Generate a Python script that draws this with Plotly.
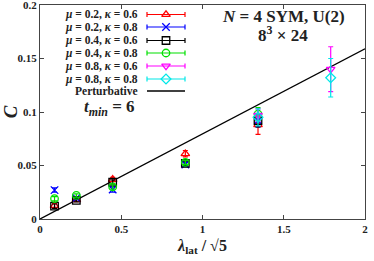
import plotly.graph_objects as go

# ---- data ----
x_low = [0.0894, 0.2236, 0.4472, 0.8944, 1.3416]
x_high = [1.3416, 1.7889]

c_m02_k06 = [0.0125, 0.0180, 0.0370, 0.0610, 0.0880]
e_m02_k06 = [0.0020, 0.0015, 0.0020, 0.0030, 0.0090]
c_m02_k08 = [0.0270, 0.0195, 0.0275, 0.0510, 0.0920]
e_m02_k08 = [0.0020, 0.0015, 0.0025, 0.0020, 0.0060]
c_m04_k06 = [0.0120, 0.0175, 0.0345, 0.0520, 0.0920]
e_m04_k06 = [0.0020, 0.0015, 0.0020, 0.0020, 0.0060]
c_m04_k08 = [0.0190, 0.0220, 0.0300, 0.0530, 0.0980]
e_m04_k08 = [0.0020, 0.0015, 0.0020, 0.0020, 0.0060]
c_m08_k06 = [0.0970, 0.1400]
e_m08_k06 = [0.0060, 0.0210]
c_m08_k08 = [0.0950, 0.1320]
e_m08_k08 = [0.0080, 0.0180]

pert_x = [0.0, 2.0]
pert_y = [0.0, 0.159]

labels = ["<i>μ</i> = 0.2, <i>κ</i> = 0.6", "<i>μ</i> = 0.2, <i>κ</i> = 0.8",
          "<i>μ</i> = 0.4, <i>κ</i> = 0.6", "<i>μ</i> = 0.4, <i>κ</i> = 0.8",
          "<i>μ</i> = 0.8, <i>κ</i> = 0.6", "<i>μ</i> = 0.8, <i>κ</i> = 0.8"]

series = [
    (x_low, c_m02_k06, e_m02_k06, "#ff0000", "triangle-up-open"),
    (x_low, c_m02_k08, e_m02_k08, "#0000ff", "x-thin-open"),
    (x_low, c_m04_k06, e_m04_k06, "#000000", "square-open"),
    (x_low, c_m04_k08, e_m04_k08, "#00e000", "circle-open"),
    (x_high, c_m08_k06, e_m08_k06, "#ff00ff", "triangle-down-open"),
    (x_high, c_m08_k08, e_m08_k08, "#00e8e8", "diamond-open"),
]

FONT = "Liberation Serif"
TXT = "#222"
fig = go.Figure()

# perturbative line
fig.add_trace(go.Scatter(x=pert_x, y=pert_y, mode="lines",
                         line=dict(color="black", width=1.3), showlegend=False))

for (xs, ys, es, col, sym) in series:
    fig.add_trace(go.Scatter(
        x=xs, y=ys, mode="markers", showlegend=False,
        marker=dict(symbol=sym, size=7.5, color=col, line=dict(color=col, width=1.3)),
        error_y=dict(type="data", array=es, color=col, thickness=1.2, width=2.5)))

# ---- legend drawn on an auxiliary pixel-like axis (0..325 x 0..214) ----
row_y = [204.5, 192, 178.5, 166, 153, 140, 128]
for i, (xs, ys, es, col, sym) in enumerate(series):
    fig.add_trace(go.Scatter(
        x=[126], y=[row_y[i]], xaxis="x2", yaxis="y2", mode="markers", showlegend=False,
        marker=dict(symbol=sym, size=7.5, color=col, line=dict(color=col, width=1.3)),
        error_x=dict(type="data", array=[19], color=col, thickness=1.2, width=2.5)))
    fig.add_annotation(x=100, y=row_y[i], xref="x2", yref="y2", text="<b>" + labels[i] + "</b>",
                       showarrow=False, xanchor="right", yanchor="middle",
                       font=dict(family=FONT, size=11.5, color=TXT))
fig.add_trace(go.Scatter(x=[107, 145], y=[row_y[6], row_y[6]], xaxis="x2", yaxis="y2",
                         mode="lines", line=dict(color="black", width=1.3), showlegend=False))
fig.add_annotation(x=100, y=row_y[6], xref="x2", yref="y2", text="<b>Perturbative</b>",
                   showarrow=False, xanchor="right", yanchor="middle",
                   font=dict(family=FONT, size=11.5, color=TXT))
fig.add_annotation(x=69, y=111, xref="x2", yref="y2",
                   text="<b><i>t<sub>min</sub></i> = 6</b>",
                   showarrow=False, xanchor="center", yanchor="middle",
                   font=dict(family=FONT, size=17, color=TXT))

# title annotations
fig.add_annotation(x=243, y=203, xref="x2", yref="y2", text="<b><i>N</i> = 4 SYM, U(2)</b>",
                   showarrow=False, xanchor="center", yanchor="middle",
                   font=dict(family=FONT, size=17, color=TXT))
fig.add_annotation(x=243, y=185, xref="x2", yref="y2", text="<b>8<sup>3</sup> × 24</b>",
                   showarrow=False, xanchor="center", yanchor="middle",
                   font=dict(family=FONT, size=17, color=TXT))

axis_common = dict(showgrid=False, zeroline=False, showline=True, linecolor="#444",
                   linewidth=1, mirror="ticks", ticks="inside", ticklen=4,
                   tickcolor="#444", automargin=False, ticklabeloverflow="allow",
                   tickfont=dict(family=FONT, size=11, color=TXT))

fig.update_layout(
    width=374, height=261,
    margin=dict(l=40, r=9, t=5, b=42),
    plot_bgcolor="white", paper_bgcolor="white",
    hovermode=False,
    xaxis=dict(range=[0, 2], tickvals=[0, 0.5, 1, 1.5, 2],
               ticktext=["<b>0</b>", "<b>0.5</b>", "<b>1</b>", "<b>1.5</b>", "<b>2</b>"],
               title=dict(text="<b><i>λ</i><sub>lat</sub> / √5</b>", standoff=5,
                          font=dict(family=FONT, size=16, color=TXT)),
               **axis_common),
    yaxis=dict(range=[0, 0.2], tickvals=[0, 0.05, 0.1, 0.15, 0.2],
               ticktext=["<b>0</b>", "<b>0.05</b>", "<b>0.1</b>", "<b>0.15</b>", "<b>0.2</b>"],
               title=dict(text="<b><i>C</i></b>", standoff=4,
                          font=dict(family=FONT, size=19, color=TXT)),
               **axis_common),
    xaxis2=dict(range=[0, 325], overlaying="x", visible=False, fixedrange=True),
    yaxis2=dict(range=[0, 214], overlaying="y", visible=False, fixedrange=True),
)

fig.write_html("out.html", config={"displayModeBar": False, "staticPlot": True},
               post_script="document.body.style.margin='0';document.body.style.overflow='hidden';")
